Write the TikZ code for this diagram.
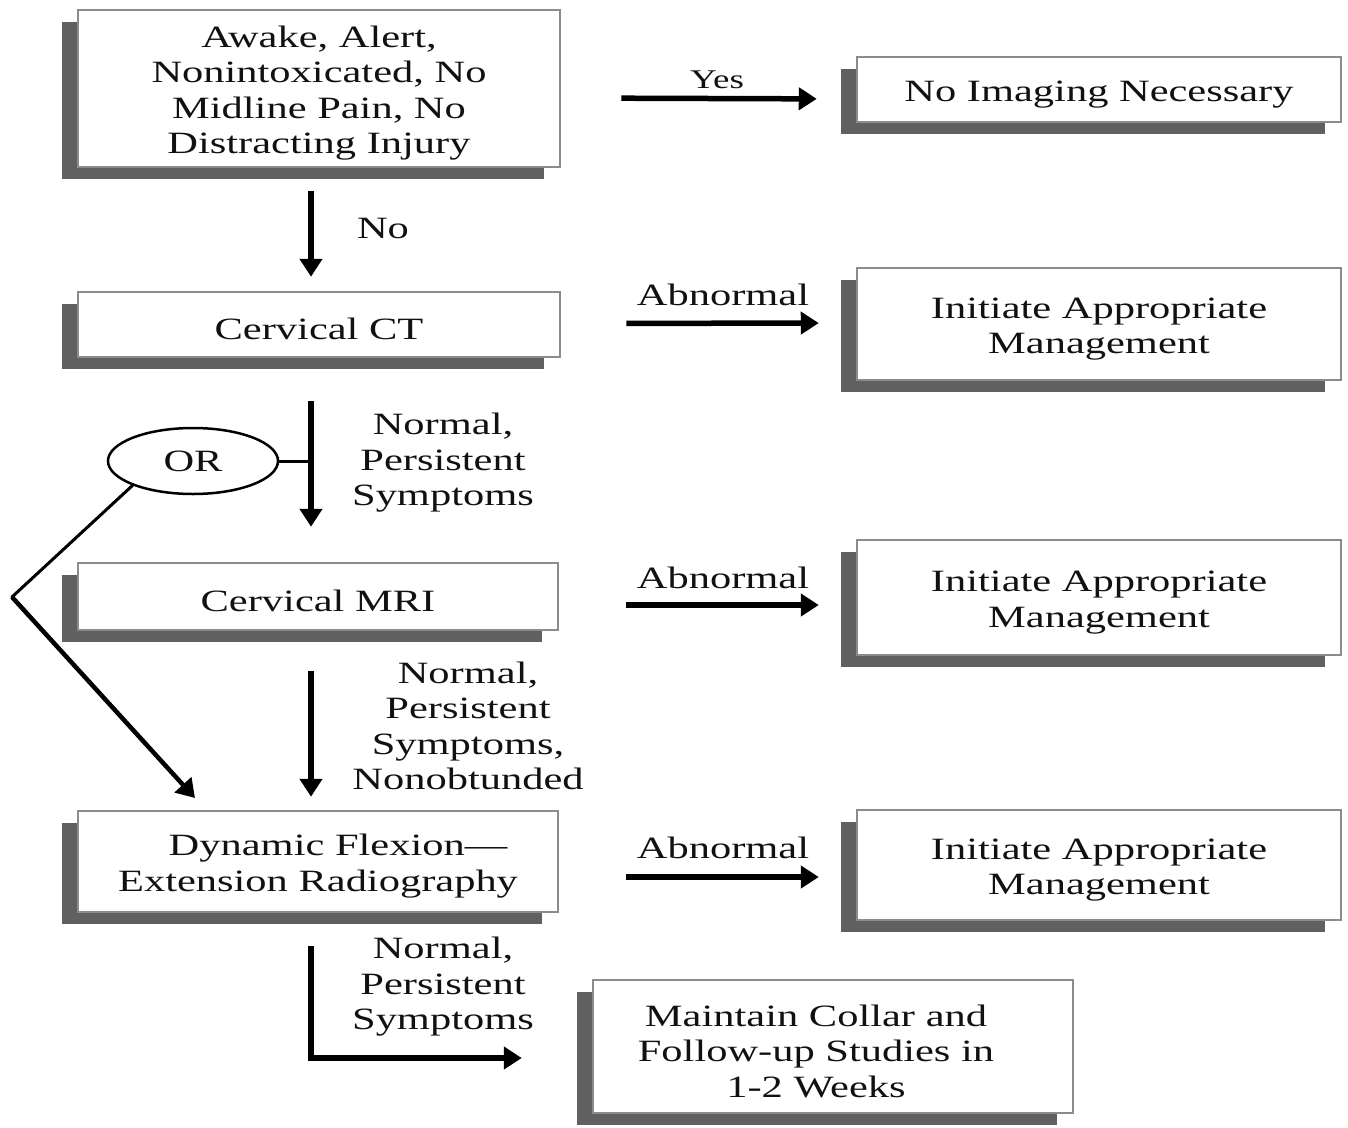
\documentclass[tikz,border=0pt]{standalone}
\usepackage{fontspec}
\setmainfont{Liberation Serif}[FakeStretch=1.37]
\usetikzlibrary{arrows.meta,shapes.geometric,shadows}
\definecolor{shd}{HTML}{606060}
\definecolor{brd}{HTML}{8C8C8C}
\definecolor{txt}{HTML}{111111}
\newcommand\myup{\rule{0pt}{31pt}}
\tikzset{
  box/.style={draw=brd, line width=2.5pt, fill=white, inner sep=0pt, align=center,
    text=txt, font=\fontsize{31}{35.5}\selectfont,
    general shadow={fill=shd, shadow xshift=-16pt, shadow yshift=-12pt}},
  lbl/.style={text=txt, align=center, inner sep=0pt, font=\fontsize{31}{35.5}\selectfont},
  arr/.style={draw=black, line width=5.5pt, -{Triangle[length=18pt,width=22pt]}},
  thin/.style={draw=black, line width=3pt},
}
\begin{document}
\begin{tikzpicture}[x=1pt,y=-1pt]
\useasboundingbox[fill=white] (0,0) rectangle (1348,1127);

% boxes
\node[box, minimum width=482pt, minimum height=157pt] (awake) at (319,88.5)
  {\myup Awake, Alert,\\Nonintoxicated, No\\Midline Pain, No\\Distracting Injury};
\node[box, minimum width=484pt, minimum height=65pt] (noimg) at (1099,89.5)
  {\myup No Imaging Necessary};
\node[box, minimum width=482pt, minimum height=65pt] (ct) at (319,324.5)
  {\myup Cervical CT};
\node[box, minimum width=484pt, minimum height=112pt] (init1) at (1099,324)
  {\myup Initiate Appropriate\\Management};
\node[box, minimum width=480pt, minimum height=67pt] (mri) at (318,596.5)
  {\myup Cervical MRI};
\node[box, minimum width=484pt, minimum height=115pt] (init2) at (1099,597.5)
  {\myup Initiate Appropriate\\Management};
\node[box, minimum width=480pt, minimum height=101pt] (dyn) at (318,861.5)
  {\myup\hspace*{40pt}Dynamic Flexion—\\Extension Radiography};
\node[box, minimum width=484pt, minimum height=110pt] (init3) at (1099,865)
  {\myup Initiate Appropriate\\Management};
\node[box, minimum width=480pt, minimum height=133pt] (maint) at (833,1046.5)
  {\myup\hspace*{-34pt}Maintain Collar and\\\hspace*{-34pt}Follow-up Studies in\\\hspace*{-34pt}1-2 Weeks};

% OR ellipse
\node[ellipse, draw=black, line width=2.5pt, minimum width=170pt, minimum height=66pt,
  inner sep=0pt, text=txt, font=\fontsize{31}{35.5}\selectfont] (or) at (193,461) {OR};

% labels
\node[lbl, font=\fontsize{27}{30}\selectfont] (lyes) at (717,80) {Yes};
\node[lbl] (lno) at (383,228) {No};
\node[lbl] (lab1) at (723,295) {Abnormal};
\node[lbl] (lab2) at (723,578) {Abnormal};
\node[lbl] (lab3) at (723,848) {Abnormal};
\node[lbl] (ln1) at (443,463) {Normal,\\Persistent\\Symptoms};
\node[lbl] (ln2) at (468,726) {Normal,\\Persistent\\Symptoms,\\Nonobtunded};
\node[lbl] (ln3) at (443,987) {Normal,\\Persistent\\Symptoms};

% horizontal arrows
\draw[arr, shorten <=60pt, shorten >=39pt] ([yshift=-9.5pt]awake.east) -- ([yshift=-9.5pt]noimg.west);
\draw[arr, shorten <=65pt, shorten >=37pt] ([yshift=1pt]ct.east) -- ([yshift=1pt]init1.west);
\draw[arr, shorten <=67pt, shorten >=37pt] ([yshift=-8.5pt]mri.east) -- ([yshift=-7.5pt]init2.west);
\draw[arr, shorten <=67pt, shorten >=37pt] ([yshift=-15.5pt]dyn.east) -- ([yshift=-12pt]init3.west);

% vertical arrows
\draw[arr, shorten <=23pt, shorten >=14pt] ([xshift=-8pt]awake.south) -- ([xshift=-8pt]ct.north);
\coordinate (ctstem) at ([xshift=-8pt]ct.south);
\draw[arr, shorten <=43pt, shorten >=35pt] (ctstem) -- ([xshift=-7pt]mri.north);
\draw[arr, shorten <=40pt, shorten >=13pt] ([xshift=-7pt]mri.south) -- ([xshift=-7pt]dyn.north);
\draw[arr, shorten <=33pt, shorten >=70pt] ([xshift=-7pt]dyn.south) |- ([yshift=-11.5pt]maint.west);

% OR connectors
\draw[thin] (or.east) -- (ctstem |- or.east);
\coordinate (bend) at (12,597);
\coordinate (orend) at (195,798);
\draw[thin, line cap=round] (or.202) -- (bend);
\draw[arr, line width=4.5pt] (bend) -- (orend);
\end{tikzpicture}
\end{document}
